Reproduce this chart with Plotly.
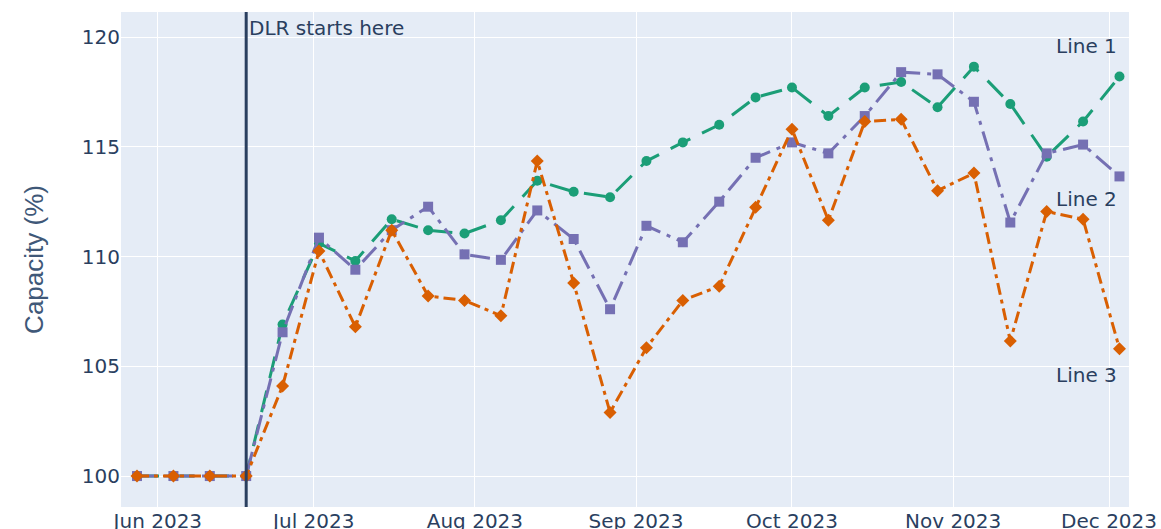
import plotly.graph_objects as go

# Weekly observation dates (Sundays)
dates = [
    "2023-05-28", "2023-06-04", "2023-06-11", "2023-06-18", "2023-06-25",
    "2023-07-02", "2023-07-09", "2023-07-16", "2023-07-23", "2023-07-30",
    "2023-08-06", "2023-08-13", "2023-08-20", "2023-08-27", "2023-09-03",
    "2023-09-10", "2023-09-17", "2023-09-24", "2023-10-01", "2023-10-08",
    "2023-10-15", "2023-10-22", "2023-10-29", "2023-11-05", "2023-11-12",
    "2023-11-19", "2023-11-26", "2023-12-03",
]

# Capacity relative to static rating (%)
line1 = [100, 100, 100, 100, 106.9, 110.6, 109.8, 111.7, 111.2, 111.05,
         111.65, 113.45, 112.95, 112.7, 114.35, 115.2, 116.0, 117.25, 117.7,
         116.4, 117.7, 117.95, 116.8, 118.65, 116.95, 114.55, 116.15, 118.2]
line2 = [100, 100, 100, 100, 106.55, 110.86, 109.4, 111.2, 112.27, 110.1,
         109.85, 112.1, 110.8, 107.6, 111.4, 110.65, 112.5, 114.5, 115.2,
         114.7, 116.4, 118.4, 118.3, 117.05, 111.55, 114.7, 115.1, 113.65]
line3 = [100, 100, 100, 100, 104.1, 110.25, 106.8, 111.2, 108.2, 108.0,
         107.3, 114.35, 108.8, 102.9, 105.85, 108.0, 108.65, 112.25, 115.8,
         111.65, 116.15, 116.25, 113.0, 113.8, 106.15, 112.05, 111.7, 105.8]

series_names = ["Line 1", "Line 2", "Line 3"]
label_y = [119.6, 112.6, 104.6]
dlr_start = "2023-06-18"

colors = ["#1b9e77", "#7570b3", "#d95f02"]
dashes = ["22px,13px", "20px,7px,4px,7px", "12px,5px,4px,5px"]
symbols = ["circle", "square", "diamond"]

font_main = "DejaVu Sans, Verdana, sans-serif"
text_color = "#2a3f5f"

fig = go.Figure()
for name, ys, c, d, s in zip(series_names, [line1, line2, line3], colors, dashes, symbols):
    fig.add_trace(go.Scatter(
        x=dates, y=ys, name=name, mode="lines+markers",
        line=dict(color=c, width=3, dash=d),
        marker=dict(color=c, size=10, symbol=s),
        showlegend=False,
    ))

# Vertical marker for the start of dynamic line rating
fig.add_shape(type="line", x0=dlr_start, x1=dlr_start, y0=0, y1=1,
              xref="x", yref="paper", line=dict(color=text_color, width=3))
fig.add_annotation(x=dlr_start, y=1, xref="x", yref="paper",
                   text="DLR starts here", showarrow=False,
                   xanchor="left", yanchor="top", xshift=1, yshift=-2,
                   font=dict(family=font_main, size=20, color=text_color))

# Series labels at the right end
for name, ly in zip(series_names, label_y):
    fig.add_annotation(x=dates[-1], y=ly, text=name, showarrow=False,
                       xanchor="right", yanchor="middle",
                       font=dict(family=font_main, size=20, color=text_color))

fig.update_layout(
    width=1161, height=529,
    template="plotly",
    margin=dict(l=121, r=32, t=12, b=22),
    font=dict(family=font_main, size=20, color=text_color),
    xaxis=dict(range=["2023-05-24 22:00", "2023-12-04 20:00"],
               dtick="M1", tickformat="%b %Y", ticks="",
               tickfont=dict(size=20), automargin=False),
    yaxis=dict(range=[98.59, 121.14], dtick=5, automargin=False,
               title=dict(text="Capacity (%)", standoff=30,
                          font=dict(family="Liberation Sans, Arial, sans-serif",
                                    size=26, color="#3f5878")),
               tickfont=dict(size=20)),
)

fig.write_html("out.html")
